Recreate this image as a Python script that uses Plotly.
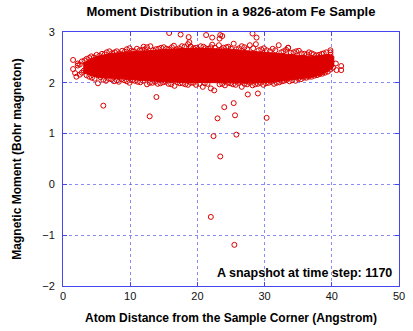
import plotly.graph_objects as go

# Dense core envelope of the moment band
band_x = [3.0, 4, 5, 7, 9, 11, 13, 15, 17, 19, 21, 23, 25, 27, 29, 31, 33, 35, 37, 38.5, 39.5, 40.3]
band_upper = [2.38, 2.46, 2.52, 2.57, 2.60, 2.62, 2.64, 2.66, 2.67, 2.68, 2.68, 2.67, 2.66, 2.63, 2.61, 2.59, 2.57, 2.55, 2.52, 2.54, 2.56, 2.52]
band_lower = [2.20, 2.15, 2.11, 2.09, 2.08, 2.06, 2.04, 2.02, 2.01, 2.01, 2.00, 2.00, 2.00, 1.99, 2.00, 2.01, 2.04, 2.07, 2.11, 2.16, 2.23, 2.32]

# Individual atoms visible around the edges of the band and as outliers
atom_x = [1.5, 2.2, 2.8, 3.5, 4.2, 5.0, 5.8, 6.5, 7.3, 8.0, 8.8, 9.5, 10.2, 11.0, 11.8, 12.5, 13.0, 13.8,
          14.6, 15.4, 16.2, 16.5, 17.3, 18.1, 18.6, 19.0, 19.8, 20.5, 21.2, 22.0, 22.2, 23.2, 23.9, 24.6,
          25.4, 26.2, 27.0, 27.8, 28.7, 29.5, 30.3, 31.2, 32.1, 32.8, 33.5, 34.3, 35.1, 35.9, 36.6, 37.3,
          38.1, 38.8, 39.8, 39.8, 39.8,
          2.5, 3.2, 3.9, 4.6, 5.4, 6.2, 6.9, 7.7, 8.4, 9.2, 9.9, 10.6, 11.4, 12.2, 13.4, 14.2, 15.0, 15.8,
          16.9, 17.7, 19.4, 20.1, 20.9, 21.6, 22.6, 23.6, 24.3, 25.0, 25.8, 26.6, 27.4, 28.3, 29.1, 29.9,
          30.8, 31.6, 32.5, 33.2, 33.9, 34.7, 35.5, 36.3, 37.0, 37.7, 38.5, 39.2,
          15.8, 17.5, 18.7, 18.8, 21.3, 22.2, 23.4, 23.3, 23.7, 28.2, 28.8, 12.0, 19.0, 33.5,
          1.5, 2.0, 2.2, 2.8, 3.5, 4.3, 5.2, 6.0, 6.8, 7.6, 8.3, 9.1, 9.9, 10.7, 11.5, 12.5, 13.3, 14.1,
          14.9, 15.7, 16.6, 17.4, 18.2, 19.0, 19.8, 20.8, 21.5, 22.0, 22.5, 23.3, 24.1, 24.9, 25.7, 26.6,
          27.4, 28.2, 29.0, 29.8, 30.6, 31.4, 32.2, 32.9, 33.7, 34.6, 35.4, 36.2, 37.0, 37.8, 38.6, 39.4,
          40.6, 41.4, 40.7, 41.4,
          1.8, 2.5, 3.1, 3.9, 4.7, 5.6, 6.4, 7.2, 8.0, 8.7, 9.5, 10.3, 11.1, 11.9, 12.9, 13.7, 14.5, 15.3,
          16.1, 17.0, 17.8, 18.6, 19.4, 20.3, 21.1, 23.7, 24.5, 25.3, 26.1, 27.0, 27.8, 28.6, 29.4, 30.2,
          31.0, 31.8, 32.6, 33.3, 34.1, 35.0, 35.8, 36.6, 37.4, 38.2, 39.0, 39.8, 40.2,
          6.0, 13.9, 12.9, 23.0, 24.0, 22.4, 27.5, 29.0, 25.4, 25.6, 30.3, 25.8, 23.4, 22.0, 25.5]
atom_y = [2.45, 2.38, 2.42, 2.47, 2.52, 2.55, 2.57, 2.60, 2.58, 2.62, 2.63, 2.66, 2.63, 2.67, 2.65, 2.70, 2.72, 2.66,
          2.69, 2.67, 2.70, 2.73, 2.68, 2.71, 2.76, 2.71, 2.69, 2.72, 2.68, 2.70, 2.75, 2.74, 2.69, 2.71,
          2.77, 2.68, 2.70, 2.74, 2.76, 2.66, 2.64, 2.67, 2.74, 2.62, 2.69, 2.60, 2.63, 2.57, 2.60, 2.56,
          2.55, 2.58, 2.64, 2.60, 2.55,
          2.36, 2.44, 2.49, 2.50, 2.53, 2.56, 2.62, 2.60, 2.58, 2.61, 2.68, 2.62, 2.64, 2.66, 2.64, 2.67, 2.70, 2.66,
          2.66, 2.72, 2.68, 2.66, 2.71, 2.67, 2.69, 2.66, 2.70, 2.67, 2.66, 2.72, 2.66, 2.68, 2.64, 2.68,
          2.62, 2.64, 2.60, 2.65, 2.59, 2.62, 2.58, 2.56, 2.58, 2.54, 2.57, 2.60,
          2.98, 2.95, 2.90, 2.80, 2.94, 2.89, 2.94, 2.87, 2.92, 2.97, 2.89, 2.71, 2.71, 2.69,
          2.27, 2.12, 2.34, 2.20, 2.15, 2.10, 1.99, 2.06, 2.08, 2.03, 2.02, 2.05, 2.00, 2.04, 2.01, 1.97, 2.00, 1.98,
          2.01, 1.98, 1.94, 1.99, 1.97, 2.00, 1.96, 1.92, 1.98, 1.89, 1.85, 1.97, 1.95, 1.99, 1.96, 1.92,
          1.97, 1.95, 1.98, 1.96, 2.00, 1.98, 2.01, 2.04, 2.03, 2.04, 2.07, 2.10, 2.12, 2.15, 2.18, 2.22,
          2.38, 2.33, 2.25, 2.25,
          2.19, 2.16, 2.24, 2.12, 2.08, 2.11, 2.04, 2.07, 2.05, 2.07, 2.03, 2.05, 2.02, 2.04, 2.00, 2.02, 1.99, 2.02,
          1.97, 2.01, 1.99, 1.96, 2.00, 1.98, 1.99, 1.98, 2.00, 1.97, 2.00, 1.98, 2.00, 1.97, 2.00, 1.99,
          2.02, 2.00, 2.03, 2.06, 2.05, 2.08, 2.10, 2.12, 2.14, 2.17, 2.20, 2.26, 2.30,
          1.55, 1.72, 1.34, 1.30, 1.52, 0.95, 1.77, 1.79, 1.60, 1.36, 1.31, 0.98, 0.55, -0.64, -1.19]

x_ticks = [0, 10, 20, 30, 40, 50]
y_ticks = [-2, -1, 0, 1, 2, 3]

RED = "#dd0000"
BLUE = "#4646ee"
GRID = "rgba(90,90,245,0.7)"
FONT = "Liberation Sans, Arial, sans-serif"

fig = go.Figure()
fig.add_trace(go.Scatter(
    x=band_x + band_x[::-1], y=band_upper + band_lower[::-1],
    fill="toself", fillcolor=RED, mode="lines",
    line=dict(color=RED, width=1), hoverinfo="skip", showlegend=False))
fig.add_trace(go.Scatter(
    x=atom_x, y=atom_y, mode="markers",
    marker=dict(symbol="circle-open", size=5, color=RED, line=dict(width=1, color=RED)),
    showlegend=False))

axis_common = dict(
    showline=True, linecolor=BLUE, linewidth=1, mirror="ticks",
    showgrid=True, gridcolor=GRID, gridwidth=1, griddash="dot",
    ticks="inside", ticklen=4, tickcolor=BLUE, zeroline=False,
    tickfont=dict(family=FONT, size=11, color="#111111"),
)

fig.update_layout(
    width=413, height=331,
    margin=dict(l=63, r=8, t=32, b=44),
    paper_bgcolor="white", plot_bgcolor="white",
    title=dict(text="<b>Moment Distribution in a 9826-atom Fe Sample</b>",
               x=0.5, xref="paper", xanchor="center", y=0.965, yanchor="middle",
               font=dict(family=FONT, size=13, color="black")),
    xaxis=dict(range=[0, 50], tickvals=x_ticks,
               title=dict(text="<b>Atom Distance from the Sample Corner (Angstrom)</b>",
                          font=dict(family=FONT, size=12, color="black"), standoff=12),
               **axis_common),
    yaxis=dict(range=[-2, 3], tickvals=y_ticks, ticklabelstandoff=5,
               title=dict(text="<b>Magnetic Moment (Bohr magneton)</b>",
                          font=dict(family=FONT, size=12, color="black"), standoff=18),
               **axis_common),
    annotations=[dict(text="<b>A snapshot at time step: 1170</b>",
                      x=0.985, y=0.05, xref="paper", yref="paper",
                      xanchor="right", yanchor="middle", showarrow=False,
                      font=dict(family=FONT, size=12.5, color="black"))],
)

fig.write_html("out.html")
